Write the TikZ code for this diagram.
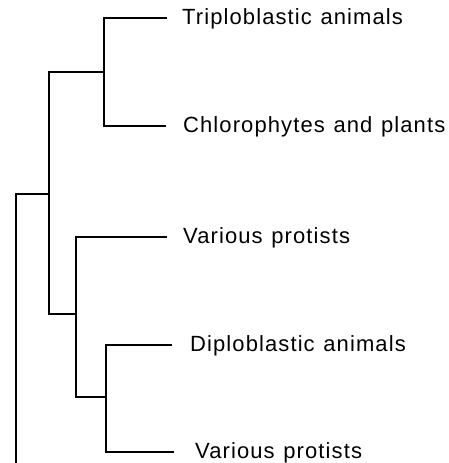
\documentclass[tikz,border=0pt]{standalone}
\usepackage{fontspec}
\setmainfont{Liberation Sans}[LetterSpace=5, WordSpace=1.2]
\begin{document}
\begin{tikzpicture}[x=1pt,y=-1pt,
  branch/.style={draw=black, line width=2pt},
  leaf/.style={anchor=west, inner ysep=0pt, text height=16pt, text depth=4pt,
    font=\fontsize{22}{25}\selectfont, text=black}]
\useasboundingbox (0,0) rectangle (449,463);
% internal nodes
\coordinate (root) at (16,463);
\coordinate (nB) at (49,194);
\coordinate (nC) at (104,72);
\coordinate (nD) at (76,314);
\coordinate (nE) at (106,397);
% leaves
\node[leaf, inner xsep=15pt] (L1) at (167,18) {Triploblastic animals};
\node[leaf, inner xsep=17pt] (L2) at (166,126) {Chlorophytes and plants};
\node[leaf, inner xsep=16pt] (L3) at (167,237) {Various protists};
\node[leaf, inner xsep=18pt] (L4) at (172,345) {Diploblastic animals};
\node[leaf, inner xsep=21pt] (L5) at (174,452) {Various protists};
% branches
\draw[branch] (root) |- (nB);
\draw[branch] (nB) |- (nC);
\draw[branch] (nB) |- (nD);
\draw[branch] (nC) |- (L1.west);
\draw[branch] (nC) |- (L2.west);
\draw[branch] (nD) |- (L3.west);
\draw[branch] (nD) |- (nE);
\draw[branch] (nE) |- (L4.west);
\draw[branch] (nE) |- (L5.west);
\end{tikzpicture}
\end{document}
